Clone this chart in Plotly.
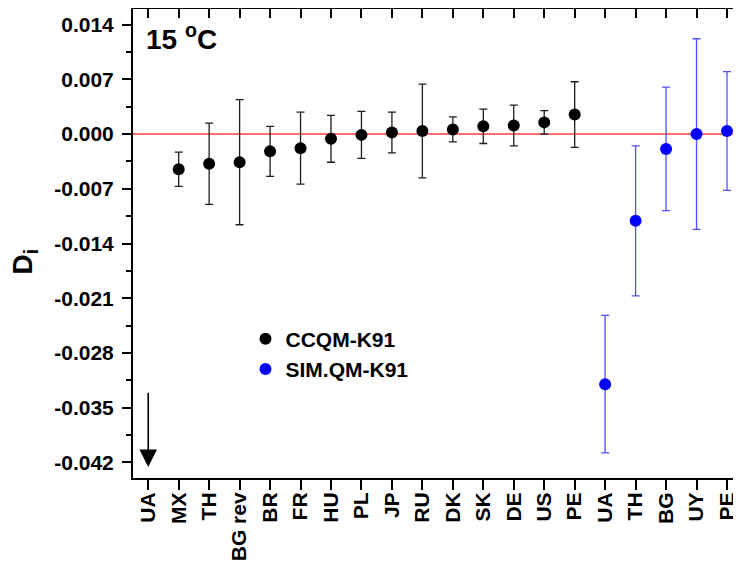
import plotly.graph_objects as go

# ---------------- data ----------------
labels = ["UA", "MX", "TH", "BG rev", "BR", "FR", "HU", "PL", "JP", "RU",
          "DK", "SK", "DE", "US", "PE", "UA", "TH", "BG", "UY", "PE"]

ccqm_idx = [1, 2, 3, 4, 5, 6, 7, 8, 9, 10, 11, 12, 13, 14]
ccqm_val = [-0.0045, -0.0038, -0.0036, -0.0022, -0.0018, -0.0006, -0.0001,
            0.0002, 0.0004, 0.0006, 0.0010, 0.0011, 0.0015, 0.0025]
ccqm_err = [0.0022, 0.0052, 0.0080, 0.0032, 0.0046, 0.0030, 0.0030,
            0.0026, 0.0060, 0.0016, 0.0022, 0.0026, 0.0015, 0.0042]

sim_idx = [15, 16, 17, 18, 19]
sim_val = [-0.0320, -0.0111, -0.0019, 0.0000, 0.0004]
sim_err = [0.0088, 0.0096, 0.0079, 0.0122, 0.0076]

# off-scale UA (CCQM-K91) indicator arrow: [index, from, to]
ua_arrow = [0, -0.0329, -0.0426]

y_ticks = [0.014, 0.007, 0.0, -0.007, -0.014, -0.021, -0.028, -0.035, -0.042]
y_ticktext = ["0.014", "0.007", "0.000", "-0.007", "-0.014", "-0.021",
              "-0.028", "-0.035", "-0.042"]
y_minor = [0.0105, 0.0035, -0.0035, -0.0105, -0.0175, -0.0245, -0.0315,
           -0.0385]

y_range = [-0.04401, 0.01601]
x_range = [-0.5, 19.46]

FONT = "Liberation Sans, Arial, sans-serif"

fig = go.Figure()

fig.add_trace(go.Scatter(
    x=ccqm_idx, y=ccqm_val, mode="markers", name="CCQM-K91",
    marker=dict(color="black", size=12),
    error_y=dict(type="data", array=ccqm_err, color="rgb(30,30,30)",
                 thickness=1.3, width=4),
))
fig.add_trace(go.Scatter(
    x=sim_idx, y=sim_val, mode="markers", name="SIM.QM-K91",
    marker=dict(color="rgb(0,0,255)", size=12),
    error_y=dict(type="data", array=sim_err, color="rgb(80,80,255)",
                 thickness=1.3, width=4),
))
fig.add_trace(go.Scatter(x=[], y=[], xaxis="x2", yaxis="y2",
                         showlegend=False, hoverinfo="skip"))

fig.add_shape(type="line", xref="paper", yref="y", x0=0, x1=1, y0=0, y1=0,
              line=dict(color="rgb(255,60,60)", width=1.5), layer="below")

fig.add_annotation(x=ua_arrow[0], y=ua_arrow[2], ax=ua_arrow[0], ay=ua_arrow[1],
                   xref="x", yref="y", axref="x", ayref="y", text="",
                   showarrow=True, arrowhead=2, arrowsize=2.2, arrowwidth=1.6,
                   arrowcolor="black")

fig.add_annotation(x=0.018, y=0.94, xref="paper", yref="paper",
                   xanchor="left", yanchor="middle", showarrow=False,
                   text="15 <sup>o</sup>C",
                   font=dict(family=FONT, size=28, color="black", weight="bold"))

fig.add_annotation(x=-0.179, y=0.462, xref="paper", yref="paper",
                   xanchor="center", yanchor="middle", showarrow=False,
                   textangle=-90, text="D<sub>i</sub>",
                   font=dict(family=FONT, size=28, color="black", weight="bold"))

tickfont = dict(family=FONT, size=21, color="black", weight="bold")

# page body adds an 8px offset; figure sized to fill the rest of the window
fig.update_layout(
    width=733, height=562,
    margin=dict(l=125, r=0, t=1, b=92, autoexpand=False),
    paper_bgcolor="white", plot_bgcolor="white",
    font=dict(family=FONT, color="black"),
    showlegend=True,
    legend=dict(x=0.185, y=0.34, xanchor="left", yanchor="top",
                bgcolor="rgba(0,0,0,0)",
                font=dict(family=FONT, size=21, color="black", weight="bold"),
                tracegroupgap=0),
    xaxis=dict(range=x_range, tickmode="array", tickvals=list(range(len(labels))),
               ticktext=labels, tickangle=-90, ticks="outside", ticklen=10,
               tickwidth=1.8, tickcolor="black", showline=True, linewidth=2,
               linecolor="black", showgrid=False, zeroline=False,
               tickfont=tickfont, automargin=False, ticklabelstandoff=-6),
    xaxis2=dict(range=x_range, overlaying="x", side="top", tickmode="array",
                tickvals=list(range(len(labels))), ticks="inside", ticklen=9,
                tickwidth=1.8, tickcolor="black", showticklabels=False,
                showline=True, linewidth=2, linecolor="black",
                showgrid=False, zeroline=False, automargin=False),
    yaxis=dict(range=y_range, tickmode="array", tickvals=y_ticks,
               ticktext=y_ticktext, ticks="outside", ticklen=9, tickwidth=1.8,
               tickcolor="black", showline=True, linewidth=2, linecolor="black",
               showgrid=False, zeroline=False, tickfont=tickfont,
               automargin=False, ticklabelstandoff=4,
               minor=dict(tickmode="array", tickvals=y_minor, ticks="outside",
                          ticklen=5, tickwidth=1.8, tickcolor="black",
                          showgrid=False)),
    yaxis2=dict(range=y_range, overlaying="y", side="right", tickmode="array",
                tickvals=y_ticks, ticks="inside", ticklen=8, tickwidth=1.8,
                tickcolor="black", showticklabels=False, showline=False,
                showgrid=False, zeroline=False, automargin=False,
                minor=dict(tickmode="array", tickvals=y_minor, ticks="inside",
                           ticklen=4, tickwidth=1.8, tickcolor="black",
                           showgrid=False)),
)

fig.write_html("out.html")
